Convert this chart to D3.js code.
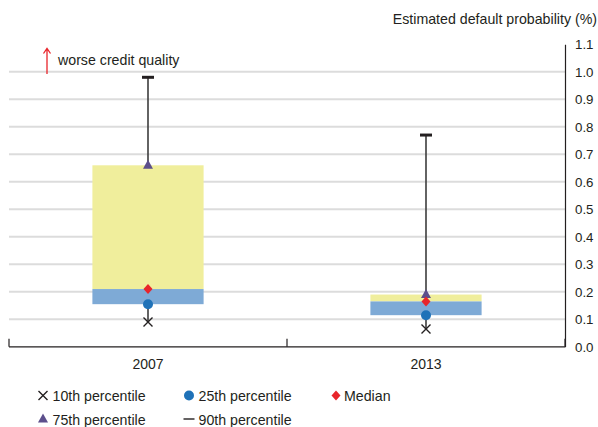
<!DOCTYPE html>
<html><head><meta charset="utf-8">
<script src="https://cdn.jsdelivr.net/npm/d3@7"></script>
<style>body{margin:0;background:#fff}svg{display:block}text{font-family:"Liberation Sans",Arial,Helvetica,sans-serif;fill:#231f20}</style>
</head><body><svg id="c" width="598" height="427"></svg>
<script>
const years = ["2007", "2013"];
const p10 = [0.09, 0.065];
const p25 = [0.155, 0.115];
const median = [0.21, 0.165];
const p75 = [0.66, 0.19];
const p90 = [0.98, 0.77];
const yTicks = [0.0,0.1,0.2,0.3,0.4,0.5,0.6,0.7,0.8,0.9,1.0,1.1];
const legendItems = [
  {key:"x", label:"10th percentile"},
  {key:"circle", label:"25th percentile"},
  {key:"diamond", label:"Median"},
  {key:"triangle", label:"75th percentile"},
  {key:"dash", label:"90th percentile"}
];

const svg = d3.select("#c");
const mLeft = 9, mRight = 565, mTop = 44.3, mBottom = 346.8;
const x = d3.scaleBand().domain(years).range([mLeft, mRight]);
const y = d3.scaleLinear().domain([0, 1.1]).range([mBottom, mTop]);

// gridlines
svg.append("g").selectAll("line").data(yTicks.filter(d => d > 0 && d <= 1.0)).join("line")
  .attr("x1", mLeft).attr("x2", mRight).attr("y1", d => y(d)).attr("y2", d => y(d))
  .attr("stroke", "#dcdcdc").attr("stroke-width", 2);

// right axis
const ya = d3.axisRight(y).tickValues(yTicks).tickFormat(d3.format(".1f")).tickSize(0).tickPadding(10);
const gy = svg.append("g").attr("transform", `translate(${mRight},0)`).call(ya);
gy.select(".domain").attr("stroke", "#231f20").attr("stroke-width", 1.2);
gy.selectAll("text").attr("font-size", 13.3).attr("fill", "#231f20").style("font-family", '"Liberation Sans",Arial,sans-serif');

// bottom axis
svg.append("line").attr("x1", mLeft).attr("x2", mRight).attr("y1", mBottom).attr("y2", mBottom).attr("stroke", "#231f20").attr("stroke-width", 1.2);
[mLeft, mLeft + x.step(), mRight].forEach(v => {
  svg.append("line").attr("x1", v).attr("x2", v).attr("y1", mBottom).attr("y2", mBottom - 8).attr("stroke", "#231f20").attr("stroke-width", 1.2);
});
svg.append("g").selectAll("text").data(years).join("text")
  .attr("x", d => x(d) + x.bandwidth()/2).attr("y", 368.5).attr("text-anchor", "middle").attr("font-size", 14).text(d => d);

// boxes
const bw = x.bandwidth() * 0.4;
const cx = i => x(years[i]) + x.bandwidth()/2;
const g = svg.append("g");
years.forEach((yr, i) => {
  g.append("line").attr("x1", cx(i)).attr("x2", cx(i)).attr("y1", y(p10[i])).attr("y2", y(p90[i]))
    .attr("stroke", "#3d3d3d").attr("stroke-width", 1.6);
  g.append("rect").attr("x", cx(i) - bw/2).attr("width", bw).attr("y", y(p75[i])).attr("height", y(median[i]) - y(p75[i])).attr("fill", "#f0ee9c");
  g.append("rect").attr("x", cx(i) - bw/2).attr("width", bw).attr("y", y(median[i])).attr("height", y(p25[i]) - y(median[i])).attr("fill", "#7eaad6");
});

function marker(sel, key, px, py, s) {
  if (key === "x") {
    sel.append("path").attr("d", `M${px-4.5},${py-4.5}L${px+4.5},${py+4.5}M${px+4.5},${py-4.5}L${px-4.5},${py+4.5}`).attr("stroke", "#231f20").attr("stroke-width", 1.4).attr("fill", "none");
  } else if (key === "circle") {
    sel.append("circle").attr("cx", px).attr("cy", py).attr("r", 5).attr("fill", "#1f72b8");
  } else if (key === "diamond") {
    sel.append("path").attr("d", `M${px},${py-5}L${px+4.5},${py}L${px},${py+5}L${px-4.5},${py}Z`).attr("fill", "#e8252b");
  } else if (key === "triangle") {
    sel.append("path").attr("d", `M${px},${py-5.5}L${px+5},${py+3.5}L${px-5},${py+3.5}Z`).attr("fill", "#5c4f8c");
  } else if (key === "dash") {
    sel.append("line").attr("x1", px - s).attr("x2", px + s).attr("y1", py).attr("y2", py).attr("stroke", "#231f20").attr("stroke-width", s > 5.5 ? 3 : 1.4);
  }
}
years.forEach((yr, i) => {
  marker(g, "dash", cx(i), y(p90[i]), 6);
  marker(g, "x", cx(i), y(p10[i]));
  marker(g, "circle", cx(i), y(p25[i]));
  marker(g, "triangle", cx(i), y(p75[i]));
  marker(g, "diamond", cx(i), y(median[i]));
});

// titles
svg.append("text").attr("x", 597).attr("y", 24).attr("text-anchor", "end").attr("font-size", 14.2).text("Estimated default probability (%)");
svg.append("text").attr("x", 58).attr("y", 65).attr("font-size", 14.2).text("worse credit quality");
svg.append("path").attr("d", "M47,74L47,49M43.5,53.5L47,48.5L50.5,53.5").attr("stroke", "#e8252b").attr("stroke-width", 1.3).attr("fill", "none");

// legend
const lpos = [[43, 396], [189, 396], [336, 396], [43, 419.5], [189, 419.5]];
const lg = svg.append("g");
legendItems.forEach((it, i) => {
  const [px, py] = lpos[i];
  marker(lg, it.key, px, py - 0.5, 5.5);
  lg.append("text").attr("x", px + (i === 2 ? 8 : 9.5)).attr("y", py + 5).attr("font-size", 14.2).text(it.label);
});
</script></body></html>
